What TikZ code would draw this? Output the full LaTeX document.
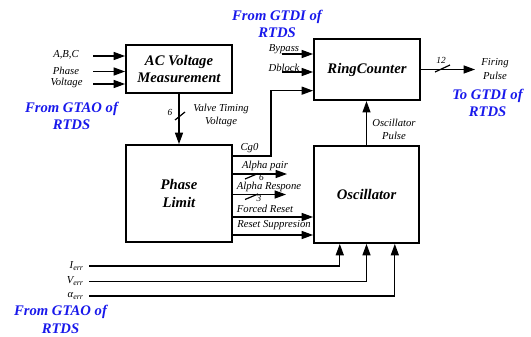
\documentclass[tikz,border=0pt]{standalone}
\usepackage{fontspec}
\setmainfont{Liberation Serif}
\usepackage{xcolor}
\usetikzlibrary{arrows.meta,calc,positioning}
\definecolor{rtdsblue}{RGB}{25,25,235}

\begin{document}
\begin{tikzpicture}[x=0.75pt,y=-0.75pt,
  block/.style={draw,line width=1.4pt,inner sep=0pt,align=center,font=\fontsize{11}{13}\selectfont\bfseries\itshape},
  lbl/.style={inner sep=0pt,align=center,font=\fontsize{8}{10}\selectfont\itshape},
  bus/.style={inner sep=0pt,font=\fontsize{7}{8}\selectfont\itshape},
  src/.style={inner sep=0pt,align=center,text=rtdsblue,font=\fontsize{11}{13}\selectfont\bfseries\itshape},
  sig/.style={line width=0.9pt,-{Triangle[length=8.5pt,width=6pt]}},
  wire/.style={line width=0.9pt}]
  \useasboundingbox (0,0) rectangle (531,336);
  % blocks
  \node[block,minimum width=79.5pt,minimum height=36pt] (acm) at (179,69) {AC Voltage\\Measurement};
  \node[block,minimum width=79.5pt,minimum height=46pt] (ring) at (367,69.5) {RingCounter};
  \node[block,minimum width=79.5pt,minimum height=72.75pt] (plim) at (179,193.5) {Phase\\Limit};
  \node[block,minimum width=78.75pt,minimum height=72.75pt] (osc) at (366.5,194.5) {Oscillator};
  % phase voltage inputs
  \node[lbl] (abc) at (66,55) {A,B,C};
  \node[lbl] (phs) at (66,71) {Phase};
  \node[lbl] (vlt) at (66.5,83) {Voltage};
  \coordinate (abcIn) at (93,56);
  \coordinate (phsIn) at (93,71.5);
  \coordinate (vltIn) at (93,84);
  \draw[sig] (abcIn) -- (abcIn -| acm.west);
  \draw[sig] (phsIn) -- (phsIn -| acm.west);
  \draw[sig] (vltIn) -- (vltIn -| acm.west);
  \node[src] (gtaoTop) at (71.5,116) {From GTAO of\\RTDS};
  % valve timing voltage
  \draw[sig] (acm.south) -- (plim.north);
  \draw[wire] (175,120) -- (185,112);
  \node[bus] (vtBus) at (170,112) {6};
  \node[lbl] (vtLbl) at (221,115.5) {Valve Timing\\Voltage};
  % Cg0 to ring counter
  \coordinate (cgTurn) at (271,156);
  \draw[sig] (plim.east |- cgTurn) -- (cgTurn) |- ($(ring.west)!0.67!(ring.south west)$);
  \node[lbl] (cgLbl) at (249.5,148.5) {Cg0};
  % ring counter inputs
  \node[src] (gtdiTop) at (277,24) {From GTDI of\\RTDS};
  \node[lbl] (byp) at (284,49) {Bypass};
  \node[lbl] (dbl) at (284,67.5) {Dblock};
  \coordinate (bypIn) at (282,54);
  \coordinate (dblIn) at (282,72);
  \draw[sig] (bypIn) -- (bypIn -| ring.west);
  \draw[sig] (dblIn) -- (dblIn -| ring.west);
  % firing pulse out
  \coordinate (fireOut) at (475,69.5);
  \draw[sig] (ring.east) -- (fireOut);
  \draw[wire] (435,72) -- (450,65);
  \node[bus] (fireBus) at (441,60.5) {12};
  \node[lbl] (fireLbl) at (495,69) {Firing\\Pulse};
  \node[src] (gtdiOut) at (487.5,103) {To GTDI of\\RTDS};
  % oscillator pulse
  \draw[sig] (osc.north) -- (osc.north |- ring.south);
  \node[lbl] (oscLbl) at (394,129.5) {Oscillator\\Pulse};
  % phase limit outputs
  \coordinate (apEnd) at (287,174);
  \coordinate (arEnd) at (286,194.5);
  \coordinate (frRow) at (250,217);
  \coordinate (rsRow) at (250,235);
  \draw[sig] (plim.east |- apEnd) -- (apEnd);
  \draw[wire] (245,179) -- (258,173.5);
  \node[bus] (apBus) at (261.5,177) {6};
  \node[lbl] (apLbl) at (265,165.5) {Alpha pair};
  \draw[sig] (plim.east |- arEnd) -- (arEnd);
  \draw[wire] (245,199.5) -- (258,194);
  \node[bus] (arBus) at (259,198) {3};
  \node[lbl] (arLbl) at (269,187) {Alpha Respone};
  \draw[sig] (plim.east |- frRow) -- (osc.west |- frRow);
  \node[lbl] (frLbl) at (265,209) {Forced Reset};
  \draw[sig] (plim.east |- rsRow) -- (osc.west |- rsRow);
  \node[lbl] (rsLbl) at (274,225.5) {Reset Suppresion};
  % error inputs
  \node[lbl,anchor=east] (ierr) at (84,266) {I\textsubscript{err}};
  \node[lbl,anchor=east] (verr) at (84,281) {V\textsubscript{err}};
  \node[lbl,anchor=east] (aerr) at (84,296) {α\textsubscript{err}};
  \coordinate (ierrIn) at (89,266);
  \coordinate (verrIn) at (89,281.5);
  \coordinate (aerrIn) at (89,296);
  \draw[sig] (ierrIn) -| ($(osc.south west)!0.25!(osc.south east)$);
  \draw[sig] (verrIn) -| ($(osc.south west)!0.5!(osc.south east)$);
  \draw[sig] (aerrIn) -| ($(osc.south west)!0.765!(osc.south east)$);
  \node[src] (gtaoBot) at (60.5,319.5) {From GTAO of\\RTDS};
\end{tikzpicture}
\end{document}
